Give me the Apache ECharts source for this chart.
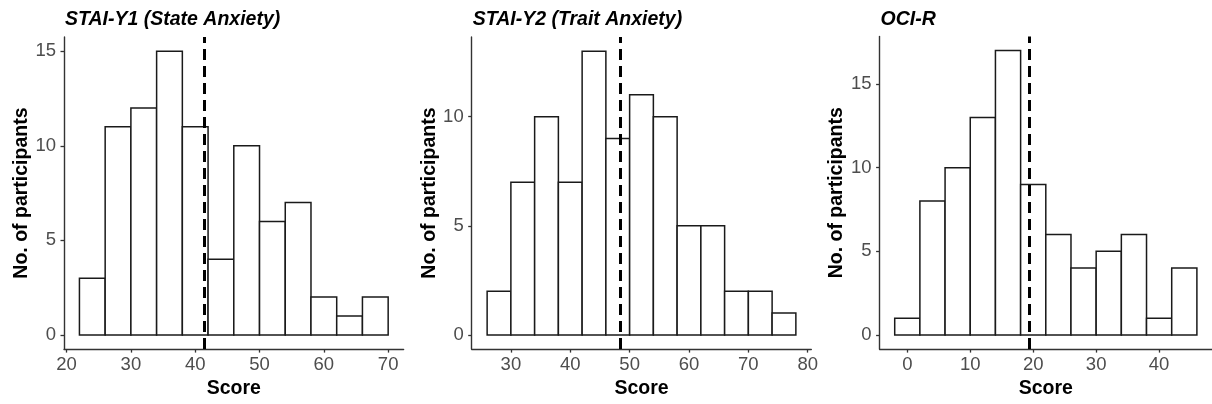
<!DOCTYPE html>
<html>
<head>
<meta charset="utf-8">
<script src="https://cdn.jsdelivr.net/npm/echarts@6/dist/echarts.min.js"></script>
<style>
html,body{margin:0;padding:0;background:#fff;}
#chart{width:1212px;height:404px;}
</style>
</head>
<body>
<div id="chart"></div>
<script>
// ---- Data ----
const titles = ['STAI-Y1 (State Anxiety)', 'STAI-Y2 (Trait Anxiety)', 'OCI-R'];
const binWidth = 4;
const binStarts = [22, 26, -2];
const countsY1 = [3, 11, 12, 15, 11, 4, 10, 6, 7, 2, 1, 2];
const countsY2 = [2, 7, 10, 7, 13, 9, 11, 10, 5, 5, 2, 2, 1];
const countsOCI = [1, 8, 10, 13, 17, 9, 6, 4, 5, 6, 1, 4];
const cutoffs = [41.35, 48.4, 19.4];
const xTicksY1 = [20, 30, 40, 50, 60, 70];
const xTicksY2 = [30, 40, 50, 60, 70, 80];
const xTicksOCI = [0, 10, 20, 30, 40];
const yTicksY1 = [0, 5, 10, 15];
const yTicksY2 = [0, 5, 10];
const yTicksOCI = [0, 5, 10, 15];
const xLabel = 'Score';
const yLabel = 'No. of participants';

const allCounts = [countsY1, countsY2, countsOCI];
const allXTicks = [xTicksY1, xTicksY2, xTicksOCI];
const allYTicks = [yTicksY1, yTicksY2, yTicksOCI];

// ---- Layout ----
const grids = [
  {left: 64, top: 37, width: 339.6, height: 315},
  {left: 471.7, top: 37, width: 339.6, height: 315.2},
  {left: 879.6, top: 36.4, width: 339.6, height: 314.6}
];

const FONT = '"Liberation Sans", Arial, sans-serif';
const axisColor = '#333333';

const option = {
  animation: false,
  backgroundColor: '#ffffff',
  title: [], grid: [], xAxis: [], yAxis: [], series: []
};

allCounts.forEach((counts, i) => {
  const start = binStarts[i];
  const end = start + counts.length * binWidth;
  const xr = end - start;
  const ymax = Math.max(...counts);
  const xmin = start - 0.05 * xr, xmax = end + 0.05 * xr;
  const ymin = -0.05 * ymax, ymaxE = ymax * 1.05;

  option.grid.push(Object.assign({containLabel: false}, grids[i]));
  option.title.push({
    text: titles[i],
    left: grids[i].left - 4,
    top: 5,
    textStyle: {fontFamily: FONT, fontSize: 19.5, fontWeight: 'bold', fontStyle: 'italic', color: '#000'}
  });
  option.xAxis.push({
    type: 'value', gridIndex: i, min: xmin, max: xmax,
    name: xLabel, nameLocation: 'middle', nameGap: 28,
    nameTextStyle: {fontFamily: FONT, fontSize: 19.5, fontWeight: 'bold', color: '#000'},
    axisLine: {show: true, onZero: false, lineStyle: {color: axisColor, width: 1.4}},
    axisTick: {show: true, length: 3.5, customValues: allXTicks[i], lineStyle: {color: axisColor, width: 1.3}},
    axisLabel: {customValues: allXTicks[i], margin: 6, fontFamily: FONT, fontSize: 18.5, color: '#4D4D4D'},
    splitLine: {show: false}
  });
  option.yAxis.push({
    type: 'value', gridIndex: i, min: ymin, max: ymaxE,
    name: yLabel, nameLocation: 'middle', nameGap: 30,
    nameTextStyle: {fontFamily: FONT, fontSize: 19.5, fontWeight: 'bold', color: '#000'},
    axisLine: {show: true, onZero: false, lineStyle: {color: axisColor, width: 1.4}},
    axisTick: {show: true, length: 3.5, customValues: allYTicks[i], lineStyle: {color: axisColor, width: 1.3}},
    axisLabel: {customValues: allYTicks[i], margin: 8, fontFamily: FONT, fontSize: 18.5, color: '#4D4D4D'},
    splitLine: {show: false}
  });
  const data = counts.map((c, k) => [start + k * binWidth, start + (k + 1) * binWidth, c]);
  option.series.push({
    type: 'custom', xAxisIndex: i, yAxisIndex: i,
    data: data,
    encode: {x: [0, 1], y: 2},
    renderItem: function (params, api) {
      const p0 = api.coord([api.value(0), api.value(2)]);
      const p1 = api.coord([api.value(1), 0]);
      return {
        type: 'rect',
        shape: {x: p0[0], y: p0[1], width: p1[0] - p0[0], height: p1[1] - p0[1]},
        style: {fill: '#ffffff', stroke: '#1a1a1a', lineWidth: 1.5}
      };
    },
    markLine: {
      silent: true, symbol: 'none', label: {show: false},
      lineStyle: {color: '#000', width: 3, type: [11, 6]},
      data: [{xAxis: cutoffs[i]}]
    },
    z: 2
  });
});

const chart = echarts.init(document.getElementById('chart'), null, {renderer: 'canvas'});
chart.setOption(option);
</script>
</body>
</html>
